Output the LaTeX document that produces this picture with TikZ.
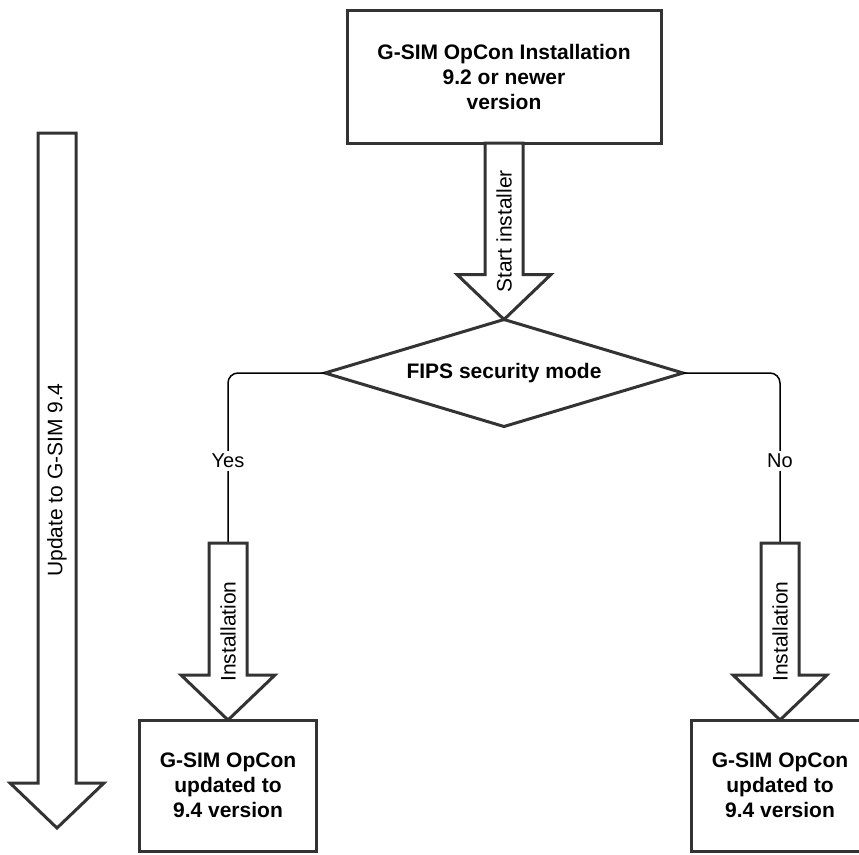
\documentclass[tikz,border=0pt]{standalone}
\usepackage{fontspec}
\setmainfont{Liberation Sans}
\usetikzlibrary{shapes.geometric,calc}
\definecolor{stroke}{HTML}{333333}
\tikzset{
  box/.style={draw=stroke, line width=3pt, align=center,
    font=\fontsize{21}{25}\selectfont\bfseries, inner sep=0pt, outer sep=0pt},
  decision/.style={draw=stroke, line width=3pt, diamond, aspect=3.35,
    minimum width=358pt, minimum height=107pt, inner sep=0pt, outer sep=0pt,
    font=\fontsize{21}{25}\selectfont\bfseries},
  fat/.style={draw=stroke, line width=3pt, line join=miter, fill=white},
  fatlabel/.style={rotate=90, font=\fontsize{21}{25}\selectfont, inner sep=0pt},
  conn/.style={draw=black, line width=1.5pt, rounded corners=10pt},
  branch/.style={fill=white, font=\fontsize{20}{24}\selectfont, inner sep=3pt}
}
\newcommand{\fatarrow}[4]{%
  \draw[fat] ([xshift=-19pt]#1) -- ([xshift=-19pt,yshift=45pt]#2)
    -- ([xshift=-47pt,yshift=45pt]#2) -- (#2)
    -- ([xshift=47pt,yshift=45pt]#2) -- ([xshift=19pt,yshift=45pt]#2)
    -- ([xshift=19pt]#1) -- cycle;
  \node[fatlabel] (#3) at ($(#1)!0.5!(#2)$) {#4};
}
\begin{document}
\begin{tikzpicture}[x=1pt,y=-1pt]
\useasboundingbox (0,0) rectangle (859,854);
\clip (0,0) rectangle (859,854);

\node[box, minimum width=314pt, minimum height=133pt] (top) at (504,76.5)
  {G-SIM OpCon Installation\\9.2 or newer\\version};
\node[decision] (dia) at (504,373) {FIPS security mode};
\node[box, minimum width=177pt, minimum height=131pt] (lbox) at (228,785.5)
  {G-SIM OpCon\\updated to\\9.4 version};
\node[box, minimum width=177pt, minimum height=131pt] (rbox) at (780,785.5)
  {G-SIM OpCon\\updated to\\9.4 version};

\coordinate (lt) at (228,543);
\coordinate (rt) at (780,543);
\coordinate (ut) at (57,133);
\coordinate (ub) at (57,828);

\draw[conn] (dia.west) -| (lt);
\draw[conn] (dia.east) -| (rt);
\node[branch] (yes) at (228,461) {Yes};
\node[branch] (no) at (780,461) {No};

\fatarrow{top.south}{dia.north}{start}{Start installer}
\fatarrow{lt}{lbox.north}{linst}{Installation}
\fatarrow{rt}{rbox.north}{rinst}{Installation}
\fatarrow{ut}{ub}{upd}{Update to G-SIM 9.4}
\end{tikzpicture}
\end{document}
